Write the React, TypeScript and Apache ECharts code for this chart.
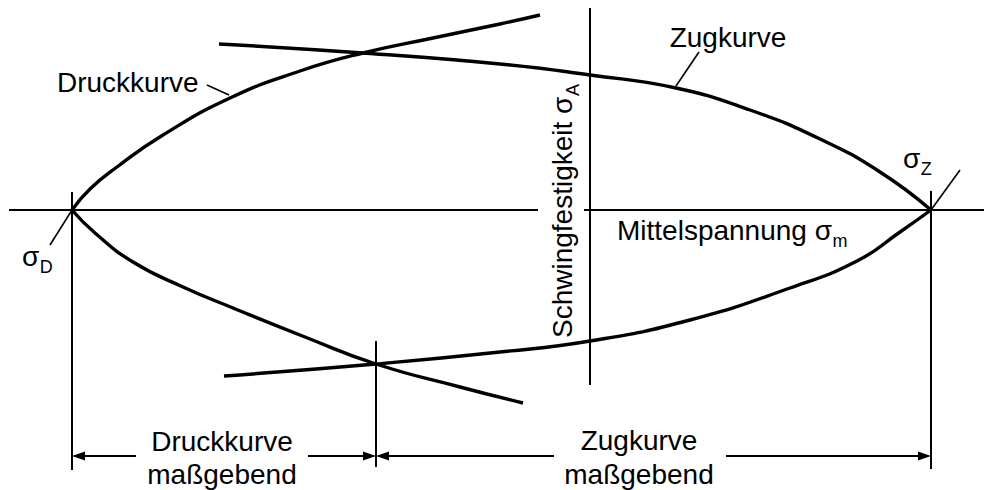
import React, { useEffect, useRef } from "react";
import * as echarts from "echarts";

// Schematic fatigue-strength diagram: amplitude σA over mean stress σm.
// Units are arbitrary; origin at the crossing of the two axes.

const sigmaD = -518; // compressive strength on the σm axis
const sigmaZ = 341; // tensile strength on the σm axis
const crossingX = -214; // the two lower curves intersect here

// upper compression curve (σD → upward right)
const upperDruck: [number, number][] = [
  [-518, 0], [-500, 21], [-473, 43], [-427, 75],
  [-360, 112], [-290, 139], [-227, 157],
  [-157, 172], [-90, 186], [-50, 195],
];

// upper tension curve (left → σZ)
const upperZug: [number, number][] = [
  [-371, 166], [-227, 157], [-90, 146], [0, 135],
  [86, 122], [160, 100], [230, 71], [290, 38], [341, 0],
];

// lower compression curve (σD → downward right)
const lowerDruck: [number, number][] = [
  [-518, 0], [-495, -23], [-457, -52], [-407, -77], [-357, -98],
  [-285, -127], [-214, -154], [-130, -177], [-67, -193],
];

// lower tension curve (left → σZ)
const lowerZug: [number, number][] = [
  [-366, -166], [-214, -154], [-90, -142], [0, -131],
  [100, -110], [200, -78], [267, -51], [310, -22], [341, 0],
];

// straight segments [x1, y1, x2, y2]
const axisSegments: number[][] = [
  [-581, 0, -52, 0],
  [-6, 0, 394, 0],
  [0, 202, 0, -175],
];
const extensionSegments: number[][] = [
  [sigmaD, 18, sigmaD, -260],
  [crossingX, -131, crossingX, -257],
  [sigmaZ, 19, sigmaZ, -259],
];
const leaderSegments: number[][] = [
  [-383, 125, -361, 115],
  [109, 158, 86, 124],
  [-540, -35, sigmaD, 0],
  [370, 40, sigmaZ, 0],
];

// dimension line below the diagram
const dimensionY = -246;
const dimensionLabels = ["Druckkurve", "Zugkurve"];
const dimensionSub = "maßgebend";

const FONT = "'Liberation Sans', Arial, Helvetica, sans-serif";
const FS = 28;
const SUB = 18;

function textWidth(s: string, size: number): number {
  const c = document.createElement("canvas").getContext("2d");
  if (!c) return s.length * size * 0.55;
  c.font = `${size}px ${FONT}`;
  return c.measureText(s).width;
}

function txt(text: string, x: number, y: number, size: number, align = "left") {
  return {
    type: "text",
    x,
    y,
    silent: true,
    style: {
      text,
      fontSize: size,
      fontFamily: FONT,
      fill: "#000",
      align,
      textAlign: align,
      verticalAlign: "middle",
      textVerticalAlign: "middle",
    },
  };
}

// main symbol followed by a lowered, smaller index
function withIndex(main: string, idx: string, x: number, y: number) {
  const w = textWidth(main, FS);
  return [txt(main, x, y, FS), txt(idx, x + w + 0.5, y + 11, SUB)];
}

function segmentSeries(data: number[][], width: number) {
  return {
    type: "custom",
    data,
    encode: { x: [0, 2], y: [1, 3] },
    clip: false,
    silent: true,
    renderItem: (_p: any, api: any) => {
      const a = api.coord([api.value(0), api.value(1)]);
      const b = api.coord([api.value(2), api.value(3)]);
      return {
        type: "line",
        shape: { x1: a[0], y1: a[1], x2: b[0], y2: b[1] },
        style: { stroke: "#000", lineWidth: width, lineCap: "butt" },
      };
    },
  };
}

function curve(data: [number, number][]) {
  return {
    type: "line",
    data,
    symbol: "none",
    smooth: 0.5,
    silent: true,
    clip: false,
    lineStyle: { color: "#000", width: 3.4 },
  };
}

export default function App() {
  const ref = useRef<HTMLDivElement>(null);

  useEffect(() => {
    document.body.style.margin = "0";
    if (!ref.current) return;
    const chart = echarts.init(ref.current, undefined, { renderer: "svg" });

    // label centres on the dimension line (σm units) and the gap left for them
    const labelX = [-368, 50];
    const gap = 86;
    const arrows: number[][] = [
      [labelX[0] - gap, sigmaD, dimensionY],
      [labelX[0] + gap, crossingX, dimensionY],
      [labelX[1] - gap, crossingX, dimensionY],
      [labelX[1] + gap, sigmaZ, dimensionY],
    ];

    const vertMain = "Schwingfestigkeit σ";
    const vertW = textWidth(vertMain, FS);

    chart.setOption({
      animation: false,
      backgroundColor: "#fff",
      grid: { left: 0, right: 0, top: 0, bottom: 0 },
      xAxis: { type: "value", min: -590, max: 394, show: false },
      yAxis: { type: "value", min: -280, max: 210, show: false },
      series: [
        segmentSeries(axisSegments, 2),
        segmentSeries(extensionSegments, 2),
        segmentSeries(leaderSegments, 1.6),
        curve(upperDruck),
        curve(upperZug),
        curve(lowerDruck),
        curve(lowerZug),
        {
          type: "custom",
          data: arrows,
          encode: { x: [0, 1], y: 2 },
          clip: false,
          silent: true,
          renderItem: (_p: any, api: any) => {
            const p0 = api.coord([api.value(0), api.value(2)]);
            const p1 = api.coord([api.value(1), api.value(2)]);
            const dir = p1[0] > p0[0] ? 1 : -1;
            const L = 13;
            const H = 4.5;
            return {
              type: "group",
              children: [
                {
                  type: "line",
                  shape: { x1: p0[0], y1: p0[1], x2: p1[0] - dir * L * 0.8, y2: p1[1] },
                  style: { stroke: "#000", lineWidth: 2 },
                },
                {
                  type: "polygon",
                  shape: {
                    points: [
                      [p1[0], p1[1]],
                      [p1[0] - dir * L, p1[1] - H],
                      [p1[0] - dir * L, p1[1] + H],
                    ],
                  },
                  style: { fill: "#000" },
                },
              ],
            };
          },
        },
      ],
      graphic: {
        elements: [
          txt("Druckkurve", 57, 82, FS),
          txt("Zugkurve", 728, 37, FS, "center"),
          ...withIndex("Mittelspannung σ", "m", 617, 230),
          ...withIndex("σ", "D", 22, 256),
          ...withIndex("σ", "Z", 903, 158),
          {
            type: "group",
            x: 562,
            y: 338,
            rotation: Math.PI / 2,
            children: [txt(vertMain, 0, 0, FS), txt("A", vertW + 0.5, 11, SUB)],
          },
          txt(dimensionLabels[0], 222, 441, FS, "center"),
          txt(dimensionSub, 222, 474, FS, "center"),
          txt(dimensionLabels[1], 639, 440, FS, "center"),
          txt(dimensionSub, 639, 474, FS, "center"),
        ],
      },
    });

    return () => chart.dispose();
  }, []);

  return <div ref={ref} style={{ width: 984, height: 490 }} />;
}
